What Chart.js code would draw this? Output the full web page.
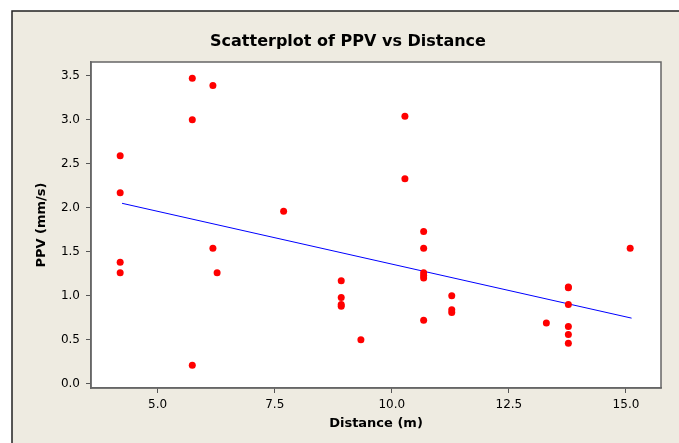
<!DOCTYPE html>
<html>
<head>
<meta charset="utf-8">
<script src="https://cdn.jsdelivr.net/npm/chart.js@4/dist/chart.umd.min.js"></script>
<style>
  html, body { margin: 0; padding: 0; background: #ffffff; }
  #wrap { width: 679px; height: 443px; }
</style>
</head>
<body>
<div id="wrap"><canvas id="ppvChart" width="679" height="443"></canvas></div>
<script>
const distance = [
  4.2, 4.2, 4.2, 4.2,
  5.74, 5.74, 5.74,
  6.18, 6.18, 6.27,
  7.69,
  8.92, 8.92, 8.92, 8.92,
  9.34,
  10.28, 10.28,
  10.68, 10.68, 10.68, 10.68, 10.68, 10.68,
  11.28, 11.28, 11.28,
  13.3,
  13.77, 13.77, 13.77, 13.77, 13.77, 13.77,
  15.09,
];
const ppv = [
  2.59, 2.17, 1.38, 1.26,
  3.47, 3.0, 0.21,
  3.39, 1.54, 1.26,
  1.96,
  1.17, 0.98, 0.9, 0.88,
  0.5,
  3.04, 2.33,
  1.73, 1.54, 1.26, 1.23, 1.2, 0.72,
  1.0, 0.84, 0.81,
  0.69,
  1.1, 1.09, 0.9, 0.65, 0.56, 0.46,
  1.54,
];
// fitted line endpoints
const fitDistance = [4.24, 15.12];
const fitPpv = [2.05, 0.745];

const xTicks = [5, 7.5, 10, 12.5, 15];
const yTicks = [0, 0.5, 1, 1.5, 2, 2.5, 3, 3.5];

const titleText = "Scatterplot of PPV vs Distance";
const xLabel = "Distance (m)";
const yLabel = "PPV (mm/s)";

const beige = "#eeebe1";
const font = "'DejaVu Sans', Verdana, sans-serif";

const backdrop = {
  id: "backdrop",
  beforeDraw(chart) {
    const { ctx, chartArea } = chart;
    ctx.save();
    ctx.fillStyle = "#ffffff";
    ctx.fillRect(0, 0, chart.width, chart.height);
    ctx.fillStyle = beige;
    ctx.fillRect(12, 11, chart.width - 12, chart.height - 11);
    ctx.strokeStyle = "#222222";
    ctx.lineWidth = 1.5;
    ctx.beginPath();
    ctx.moveTo(12, chart.height);
    ctx.lineTo(12, 11);
    ctx.lineTo(chart.width, 11);
    ctx.stroke();
    ctx.fillStyle = "#ffffff";
    ctx.fillRect(chartArea.left, chartArea.top, chartArea.right - chartArea.left, chartArea.bottom - chartArea.top);
    ctx.strokeStyle = "#666666";
    ctx.lineWidth = 1.5;
    ctx.strokeRect(chartArea.left, chartArea.top, chartArea.right - chartArea.left, chartArea.bottom - chartArea.top);
    // title
    ctx.fillStyle = "#000000";
    ctx.font = "bold 16px " + font;
    ctx.textAlign = "center";
    ctx.textBaseline = "middle";
    ctx.fillText(titleText, 348, 42);
    ctx.restore();
  },
};

const points = distance.map((d, i) => ({ x: d, y: ppv[i] }));
const fitLine = fitDistance.map((d, i) => ({ x: d, y: fitPpv[i] }));

const ctx = document.getElementById("ppvChart").getContext("2d");
new Chart(ctx, {
  type: "scatter",
  data: {
    datasets: [
      {
        label: "PPV",
        data: points,
        backgroundColor: "#ff0000",
        borderWidth: 0,
        pointRadius: 3.5,
        order: 1,
      },
      {
        type: "line",
        label: "Fit",
        data: fitLine,
        borderColor: "#0000ff",
        borderWidth: 1,
        pointRadius: 0,
        fill: false,
        order: 2,
      },
    ],
  },
  options: {
    responsive: false,
    animation: false,
    layout: { padding: { left: 0, right: 18, top: 62, bottom: 0 } },
    plugins: {
      legend: { display: false },
      tooltip: { enabled: false },
    },
    scales: {
      x: {
        type: "linear",
        min: 3.577,
        max: 15.748,
        afterFit: (scale) => { scale.height = 55; },
        afterBuildTicks: (scale) => { scale.ticks = xTicks.map((v) => ({ value: v })); },
        grid: { drawOnChartArea: false, drawTicks: true, tickLength: 5, color: "#555555" },
        border: { display: true, color: "#666666", width: 1.5 },
        ticks: {
          color: "#000000",
          padding: 5,
          maxRotation: 0,
          font: { family: font, size: 12 },
          callback: (v) => Number(v).toFixed(1),
        },
        title: {
          display: true,
          text: xLabel,
          color: "#000000",
          font: { family: font, size: 13, weight: "bold" },
          padding: { top: 0, bottom: 12 },
        },
      },
      y: {
        type: "linear",
        min: -0.049,
        max: 3.656,
        afterFit: (scale) => { scale.width = 91; },
        afterBuildTicks: (scale) => { scale.ticks = yTicks.map((v) => ({ value: v })); },
        grid: { drawOnChartArea: false, drawTicks: true, tickLength: 5, color: "#555555" },
        border: { display: true, color: "#666666", width: 1.5 },
        ticks: {
          color: "#000000",
          padding: 6,
          font: { family: font, size: 12 },
          callback: (v) => Number(v).toFixed(1),
        },
        title: {
          display: true,
          text: yLabel,
          color: "#000000",
          font: { family: font, size: 13, weight: "bold" },
          padding: { top: 34, bottom: 0 },
        },
      },
    },
  },
  plugins: [backdrop],
});
</script>
</body>
</html>
